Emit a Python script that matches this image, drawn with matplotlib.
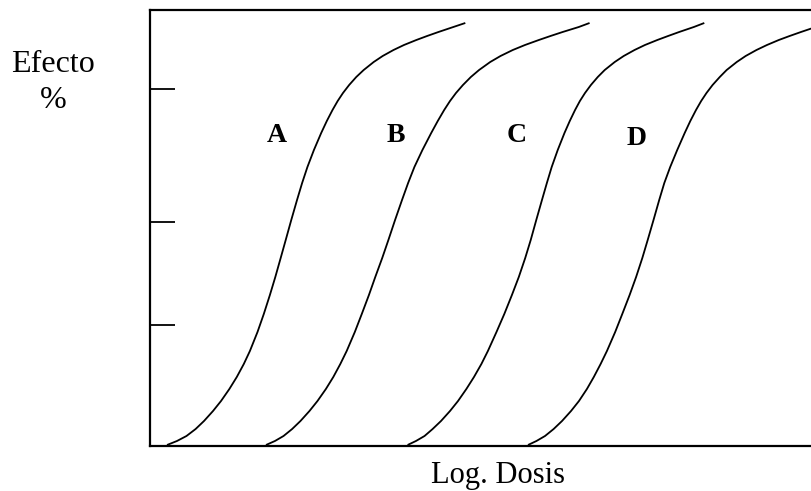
import matplotlib.pyplot as plt

# effect levels (%) and the log dose at which each curve reaches them,
# read off the picture (log dose axis runs 0-10)
effect = [0.23, 1.15, 2.29, 3.89, 5.73, 8.02, 10.31, 13.06, 15.81, 18.79,
          21.76, 26.12, 30.24, 34.59, 38.72, 43.07, 47.19, 51.78, 56.36, 60.25,
          63.92, 67.81, 71.71, 74.46, 76.98, 79.04, 80.87, 82.70, 84.54, 86.14,
          87.97, 89.35, 90.72, 91.87, 93.01, 93.93, 94.85, 95.99, 96.91]

dose_a = [0.257, 0.408, 0.551, 0.689, 0.816, 0.952, 1.073, 1.199, 1.311, 1.417,
          1.509, 1.624, 1.719, 1.811, 1.893, 1.974, 2.050, 2.134, 2.221, 2.298,
          2.378, 2.476, 2.586, 2.671, 2.757, 2.835, 2.915, 3.008, 3.116, 3.228,
          3.379, 3.515, 3.678, 3.837, 4.023, 4.186, 4.358, 4.582, 4.763]

dose_b = [1.752, 1.888, 2.017, 2.147, 2.273, 2.409, 2.530, 2.657, 2.769, 2.875,
          2.971, 3.094, 3.199, 3.307, 3.403, 3.508, 3.601, 3.702, 3.807, 3.899,
          3.994, 4.115, 4.248, 4.347, 4.444, 4.532, 4.622, 4.727, 4.847, 4.971,
          5.139, 5.295, 5.480, 5.665, 5.873, 6.050, 6.234, 6.477, 6.640]

dose_c = [3.891, 4.018, 4.147, 4.269, 4.396, 4.532, 4.653, 4.779, 4.894, 5.006,
          5.104, 5.234, 5.352, 5.467, 5.571, 5.668, 5.751, 5.835, 5.921, 5.995,
          6.068, 6.159, 6.261, 6.341, 6.421, 6.494, 6.571, 6.660, 6.764, 6.869,
          7.020, 7.156, 7.319, 7.477, 7.663, 7.826, 7.994, 8.215, 8.373]

dose_d = [5.710, 5.838, 5.967, 6.097, 6.224, 6.360, 6.480, 6.600, 6.704, 6.807,
          6.902, 7.027, 7.134, 7.245, 7.343, 7.437, 7.518, 7.606, 7.692, 7.769,
          7.858, 7.964, 8.077, 8.162, 8.248, 8.326, 8.406, 8.498, 8.607, 8.711,
          8.863, 8.998, 9.161, 9.320, 9.498, 9.662, 9.834, 10.057, 10.239]

labels = ["A", "B", "C", "D"]
label_x = [1.92, 3.71, 5.54, 7.35]
label_y = [71.2, 71.2, 71.2, 70.5]

y_ticks = [27.7, 51.3, 81.7]

plt.rcParams['font.family'] = ['Liberation Serif', 'DejaVu Serif']

fig = plt.figure(figsize=(8.12, 4.91), dpi=100)
ax = fig.add_axes([150 / 812, 1 - 446 / 491, 662 / 812, 436.5 / 491])

for doses in [dose_a, dose_b, dose_c, dose_d]:
    ax.plot(doses, effect, color='black', lw=1.3, solid_joinstyle='round', solid_capstyle='butt')

for lab, x, y in zip(labels, label_x, label_y):
    ax.text(x, y, lab, fontsize=20, fontweight='bold', ha='center', va='center')

ax.set_xlim(0, 10)
ax.set_ylim(0, 100)

ax.spines['right'].set_visible(False)
for s in ['left', 'top', 'bottom']:
    ax.spines[s].set_linewidth(1.6)

ax.set_xticks([])
ax.set_yticks(y_ticks)
ax.set_yticklabels([])
ax.tick_params(axis='y', direction='in', length=18, width=1.3)

fig.text(53 / 812, 1 - 72 / 491, "Efecto", fontsize=23, ha='center', va='baseline')
fig.text(53 / 812, 1 - 108 / 491, "%", fontsize=23, ha='center', va='baseline')
fig.text(498 / 812, 1 - 483 / 491, "Log. Dosis", fontsize=22, ha='center', va='baseline')

fig.savefig("out.png", dpi=100)
